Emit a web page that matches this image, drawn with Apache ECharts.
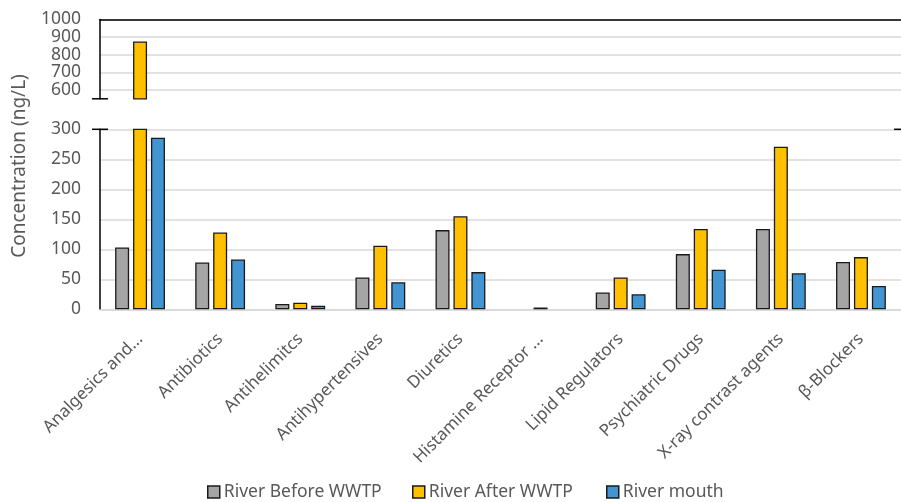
<!DOCTYPE html>
<html>
<head>
<meta charset="utf-8">
<script src="https://cdn.jsdelivr.net/npm/echarts@6/dist/echarts.min.js"></script>
<style>
  html, body { margin: 0; padding: 0; background: #fff; }
  #chart { width: 901px; height: 502px; }
</style>
</head>
<body>
<div id="chart"></div>
<script>
const categories = [
  'Analgesics and...', 'Antibiotics', 'Antihelimitcs', 'Antihypertensives', 'Diuretics',
  'Histamine Receptor ...', 'Lipid Regulators', 'Psychiatric Drugs', 'X-ray contrast agents', 'β-Blockers'
]
const riverBefore = [103, 78, 9, 53, 132, null, 28, 92, 134, 79]
const riverAfter = [875, 128, 11, 106, 155, 3, 53, 134, 271, 87]
const riverMouth = [286, 83, 6, 45, 62, null, 25, 66, 60, 39]

const seriesNames = ['River Before WWTP', 'River After WWTP', 'River mouth']
const seriesColors = ['#a5a5a5', '#ffc000', '#4394d3']
const seriesData = [riverBefore, riverAfter, riverMouth]

// broken axis: upper panel 550-1000, lower panel 0-300
const upperTicks = { min: 550, max: 1000, step: 50 }
const lowerTicks = { min: 0, max: 300, step: 50 }

const textColor = '#595959'
const fontFamily = 'Noto Sans'

const left = 100
const upperTop = 19.5
const upperHeight = 79.3
const lowerTop = 129.3
const lowerHeight = 180
const legendLefts = [207, 412, 606]

const chart = echarts.init(document.getElementById('chart'))

const barStyle = (i) => ({
  type: 'bar',
  name: seriesNames[i],
  barWidth: 14,
  barGap: '28%',
  clip: true,
  itemStyle: { color: seriesColors[i], borderColor: '#1a1a1a', borderWidth: 1.3 },
})

const upperSeries = seriesData.map((d, i) => ({
  ...barStyle(i),
  xAxisIndex: 0,
  yAxisIndex: 0,
  data: d.map((v) => (v != null && v >= upperTicks.min ? v : '-')),
}))

const lowerSeries = seriesData.map((d, i) => ({
  ...barStyle(i),
  xAxisIndex: 1,
  yAxisIndex: 1,
  data: d.map((v) => (v == null ? '-' : v)),
}))

const capLine = (x1, x2, y) => ({
  type: 'line',
  shape: { x1, y1: y, x2, y2: y },
  style: { stroke: '#000', lineWidth: 1.5 },
  z: 10,
})

const option = {
  backgroundColor: '#fff',
  animation: false,
  textStyle: { fontFamily },
  grid: [
    { left, top: upperTop, width: 806, height: upperHeight },
    { left, top: lowerTop, width: 806, height: lowerHeight },
  ],
  xAxis: [
    {
      type: 'category',
      gridIndex: 0,
      data: categories,
      position: 'top',
      axisLine: { lineStyle: { color: '#000', width: 1.5 } },
      axisTick: { show: false },
      axisLabel: { show: false },
    },
    {
      type: 'category',
      gridIndex: 1,
      data: categories,
      axisLine: { lineStyle: { color: '#d9d9d9', width: 1.5 } },
      axisTick: { show: false },
      axisLabel: {
        rotate: 45,
        interval: 0,
        margin: 27,
        color: textColor,
        fontSize: 17,
        fontFamily,
      },
    },
  ],
  yAxis: [
    {
      type: 'value',
      gridIndex: 0,
      min: upperTicks.min,
      max: upperTicks.max,
      interval: upperTicks.step,
      axisLine: { show: true, lineStyle: { color: '#000', width: 1.5 } },
      axisTick: { show: false },
      axisLabel: {
        color: textColor,
        fontSize: 17.5,
        margin: 19,
        fontFamily,
        formatter: (v) => (v % 100 === 0 ? v : ''),
      },
      splitLine: { lineStyle: { color: ['transparent', '#d9d9d9'], width: 1.5 } },
    },
    {
      type: 'value',
      gridIndex: 1,
      min: lowerTicks.min,
      max: lowerTicks.max,
      interval: lowerTicks.step,
      axisLine: { show: true, lineStyle: { color: '#000', width: 1.5 } },
      axisTick: { show: false },
      axisLabel: { color: textColor, fontSize: 17.5, margin: 19, fontFamily },
      splitLine: { lineStyle: { color: '#d9d9d9', width: 1.5 } },
    },
  ],
  legend: seriesNames.map((name, i) => ({
    data: [name],
    top: 483,
    left: legendLefts[i],
    padding: 0,
    itemWidth: 12,
    itemHeight: 12,
    itemGap: 4,
    icon: 'rect',
    selectedMode: false,
    itemStyle: { borderColor: '#1a1a1a', borderWidth: 1.5 },
    textStyle: { color: textColor, fontSize: 17.5, fontFamily, padding: [0, 0, 0, -1] },
  })),
  graphic: [
    capLine(92, 108, upperTop + upperHeight),
    capLine(92, 108, lowerTop),
    capLine(894, 901, lowerTop),
    {
      type: 'text',
      x: 20,
      y: 166,
      rotation: Math.PI / 2,
      style: {
        text: 'Concentration (ng/L)',
        fill: textColor,
        font: `19px "${fontFamily}"`,
        textAlign: 'center',
        textVerticalAlign: 'middle',
      },
    },
  ],
  series: [...upperSeries, ...lowerSeries],
}

chart.setOption(option)
</script>
</body>
</html>
